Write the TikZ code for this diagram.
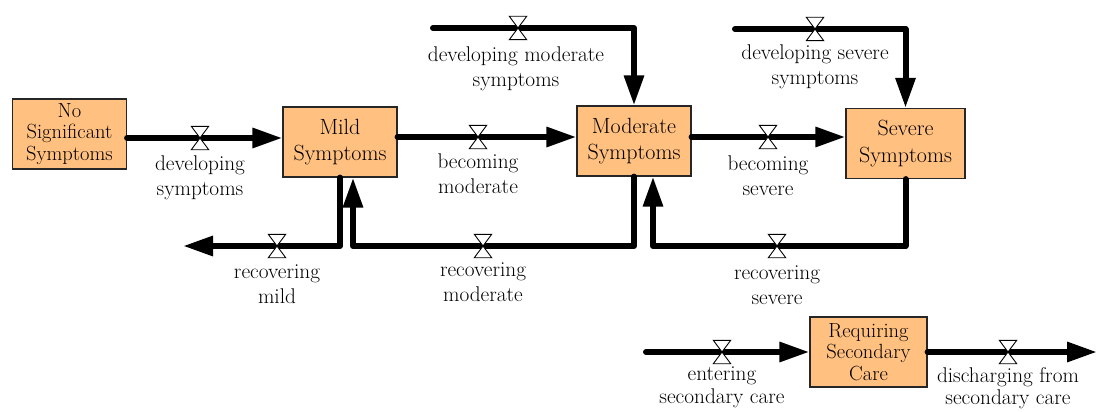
\documentclass[tikz,border=0pt]{standalone}
\usepackage{fontspec}
\usetikzlibrary{arrows.meta}
\definecolor{stockfill}{RGB}{255,192,128}
\begin{document}
\begin{tikzpicture}[x=1pt,y=-1pt,
  stock/.style={draw=black!85, line width=1.2pt, fill=stockfill, minimum width=114pt,
    minimum height=70pt, inner sep=0pt, align=center, font=\fontsize{22}{26.5}\selectfont},
  stock3/.style={stock, font=\fontsize{20.5}{21.5}\selectfont},
  flow/.style={line width=6pt, line cap=round, line join=round},
  flowarrow/.style={flow, -{Triangle[length=30pt,width=19pt]}},
  valve/.style={minimum width=17pt, minimum height=23pt, inner sep=0pt},
  valveshape/.style={draw=black, line width=0.9pt, fill=white, line join=miter},
  flowlabel/.style={align=center, inner sep=0pt, anchor=north, font=\fontsize{21.3}{25}\selectfont},
  flowlabelb/.style={flowlabel, font=\fontsize{21.3}{22.5}\selectfont}
]
\useasboundingbox (0,0) rectangle (1097,412);

% stocks
\node[stock3] (nss) at (69.5,134) {No\\Significant\\Symptoms};
\node[stock] (mild) at (340,142) {Mild\\Symptoms};
\node[stock] (mod) at (634,141) {Moderate\\Symptoms};
\node[stock, minimum width=119pt] (sev) at (905.5,143.5) {Severe\\Symptoms};
\node[stock3, minimum width=117pt] (sec) at (868.5,352) {Requiring\\Secondary\\Care};

% valve positions
\node[valve] (v1) at (200,138) {};
\node[valve] (v2) at (478,137) {};
\node[valve] (v3) at (518,28) {};
\node[valve] (v4) at (768,137) {};
\node[valve] (v5) at (815,29) {};
\node[valve] (v6) at (277,246) {};
\node[valve] (v7) at (483,246) {};
\node[valve] (v8) at (777,246) {};
\node[valve] (v9) at (722,352) {};
\node[valve] (v10) at (1008,352) {};

% free ends and inflow points
\coordinate (dmsrc) at (433,28);
\coordinate (dssrc) at (735,29);
\coordinate (rmsink) at (183,246);
\coordinate (entsrc) at (646,352);
\coordinate (dissink) at (1097,352);
\coordinate (mildin) at ([xshift=13pt]mild.south);
\coordinate (modin) at ([xshift=19pt]mod.south);

% flows
\draw[flowarrow] (nss.east |- v1) -- (mild.west |- v1);
\draw[flowarrow] (mild.east |- v2) -- (mod.west |- v2);
\draw[flowarrow] (dmsrc) -- (mod.north |- dmsrc) -- (mod.north);
\draw[flowarrow] (mod.east |- v4) -- (sev.west |- v4);
\draw[flowarrow] (dssrc) -- (sev.north |- dssrc) -- (sev.north);
\draw[flowarrow] (mild.south) -- (mild.south |- rmsink) -- (rmsink);
\draw[flowarrow] (mod.south) -- (mod.south |- v7) -- (mildin |- v7) -- (mildin);
\draw[flowarrow] (sev.south) -- (sev.south |- v8) -- (modin |- v8) -- (modin);
\draw[flowarrow] (entsrc) -- (sec.west);
\draw[flowarrow] (sec.east) -- (dissink);

% valves
\foreach \v in {v1,v2,v3,v4,v5,v6,v7,v8,v9,v10}
  \draw[valveshape] (\v.north west) -- (\v.north east) -- (\v.south west) -- (\v.south east) -- cycle;

% flow labels
\node[flowlabel] (l1) at (200,156) {developing\\symptoms};
\node[flowlabel] (l2) at (478,154) {becoming\\moderate};
\node[flowlabel] (l3) at (516,47) {developing moderate\\symptoms};
\node[flowlabel] (l4) at (815,45) {developing severe\\symptoms};
\node[flowlabel] (l5) at (768,156) {becoming\\severe};
\node[flowlabel] (l6) at (277,265) {recovering\\mild};
\node[flowlabel] (l7) at (483,263) {recovering\\moderate};
\node[flowlabel] (l8) at (777,266) {recovering\\severe};
\node[flowlabelb] (l9) at (722,367) {entering\\secondary care};
\node[flowlabelb] (l10) at (1008,367) {discharging from\\secondary care};
\end{tikzpicture}
\end{document}
